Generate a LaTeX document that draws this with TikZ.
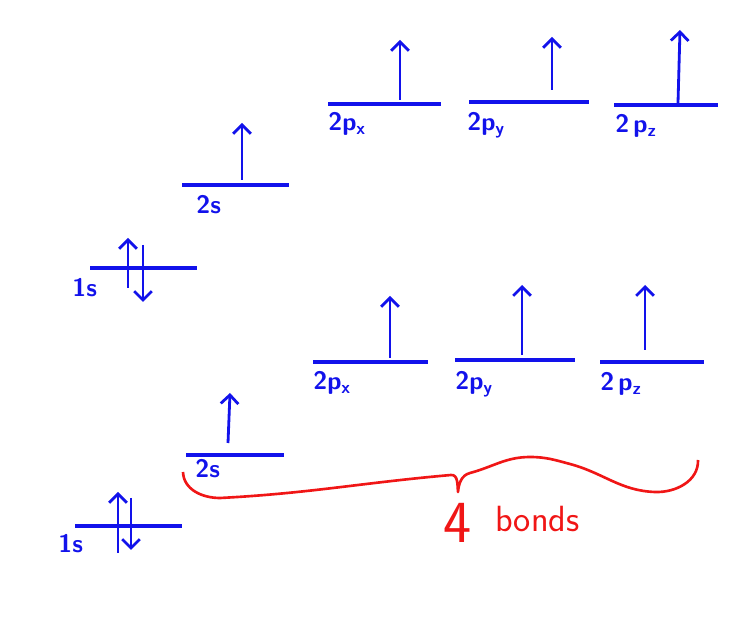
\documentclass[tikz,border=0pt]{standalone}
\usepackage{tikz}
\usetikzlibrary{
  arrows.meta,
  positioning,
}
\definecolor{ink}{RGB}{18,18,235}
\definecolor{pen}{RGB}{240,22,22}
\tikzset{
  >=Straight Barb[],
}

\begin{document}
\begin{tikzpicture}[
      level/.style={draw=ink, line width=1.8pt},
      spin/.style={draw=ink, line width=1.6pt, -{Straight Barb[length=5pt,width=10pt]}},
      lbl/.style={text=ink, font=\sffamily\bfseries\Large, inner sep=0pt, anchor=north west},
      brace/.style={draw=pen, line width=1.5pt, line join=round},
    ]
      \useasboundingbox (0,0) rectangle (15,-12.36);

      % upper set
      \coordinate (u1s-w) at (1.80,-5.36);  \coordinate (u1s-e) at (3.94,-5.36);
      \coordinate (u2s-w) at (3.64,-3.70);  \coordinate (u2s-e) at (5.78,-3.70);
      \coordinate (u2px-w) at (6.56,-2.08); \coordinate (u2px-e) at (8.82,-2.08);
      \coordinate (u2py-w) at (9.38,-2.04); \coordinate (u2py-e) at (11.78,-2.04);
      \coordinate (u2pz-w) at (12.28,-2.10); \coordinate (u2pz-e) at (14.36,-2.10);
      \foreach \o in {u1s,u2s,u2px,u2py,u2pz}
        \draw [level] (\o-w) -- (\o-e);

      \node [lbl] at (1.44,-5.56) (u1s) {1s};
      \node [lbl] at (3.92,-3.90) (u2s) {2s};
      \node [lbl] at (6.56,-2.24) (u2px) {2p\textsubscript{x}};
      \node [lbl] at (9.34,-2.24) (u2py) {2p\textsubscript{y}};
      \node [lbl] at (12.30,-2.28) (u2pz) {2\,p\textsubscript{z}};

      \draw [spin] (2.56,-5.76) -- (2.56,-4.76);
      \draw [spin] (2.86,-4.90) -- (2.86,-6.04);
      \draw [spin] (4.84,-3.60) -- (4.84,-2.46);
      \draw [spin] (8.00,-2.00) -- (8.00,-0.80);
      \draw [spin] (11.04,-1.80) -- (11.04,-0.74);
      \draw [spin] (13.56,-2.06) -- (13.60,-0.60);

      % lower set
      \coordinate (l1s-w) at (1.50,-10.52); \coordinate (l1s-e) at (3.64,-10.52);
      \coordinate (l2s-w) at (3.72,-9.10);  \coordinate (l2s-e) at (5.68,-9.10);
      \coordinate (l2px-w) at (6.26,-7.24); \coordinate (l2px-e) at (8.56,-7.24);
      \coordinate (l2py-w) at (9.10,-7.20); \coordinate (l2py-e) at (11.50,-7.20);
      \coordinate (l2pz-w) at (12.00,-7.24); \coordinate (l2pz-e) at (14.08,-7.24);
      \foreach \o in {l1s,l2s,l2px,l2py,l2pz}
        \draw [level] (\o-w) -- (\o-e);

      \node [lbl] at (1.16,-10.68) (l1s) {1s};
      \node [lbl] at (3.90,-9.18) (l2s) {2s};
      \node [lbl] at (6.26,-7.42) (l2px) {2p\textsubscript{x}};
      \node [lbl] at (9.10,-7.42) (l2py) {2p\textsubscript{y}};
      \node [lbl] at (12.00,-7.44) (l2pz) {2\,p\textsubscript{z}};

      \draw [spin] (2.36,-11.06) -- (2.36,-9.84);
      \draw [spin] (2.62,-9.96) -- (2.62,-11.00);
      \draw [spin] (4.56,-8.86) -- (4.60,-7.86);
      \draw [spin] (7.80,-7.16) -- (7.80,-5.92);
      \draw [spin] (10.44,-7.10) -- (10.44,-5.70);
      \draw [spin] (12.90,-7.00) -- (12.90,-5.70);

      % the brace
      \draw [brace] (3.66,-9.44) to[out=-88,in=180] (4.40,-9.96)
        to[out=3,in=185] (9.02,-9.50) to[out=5,in=95] (9.16,-9.84)
        to[out=85,in=195] (9.40,-9.46) to[out=15,in=180] (10.60,-9.14)
        to[out=0,in=165] (11.40,-9.28) to[out=-15,in=178] (13.10,-9.84)
        to[out=-2,in=-88] (13.96,-9.20);

      \node [text=pen, font=\sffamily\fontsize{34}{36}\selectfont, inner sep=0pt] at (9.16,-10.46) (four) {4};
      \node [text=pen, font=\sffamily\huge, inner sep=0pt, anchor=west] at (9.90,-10.38) (bonds) {bonds};
    \end{tikzpicture}
\end{document}
